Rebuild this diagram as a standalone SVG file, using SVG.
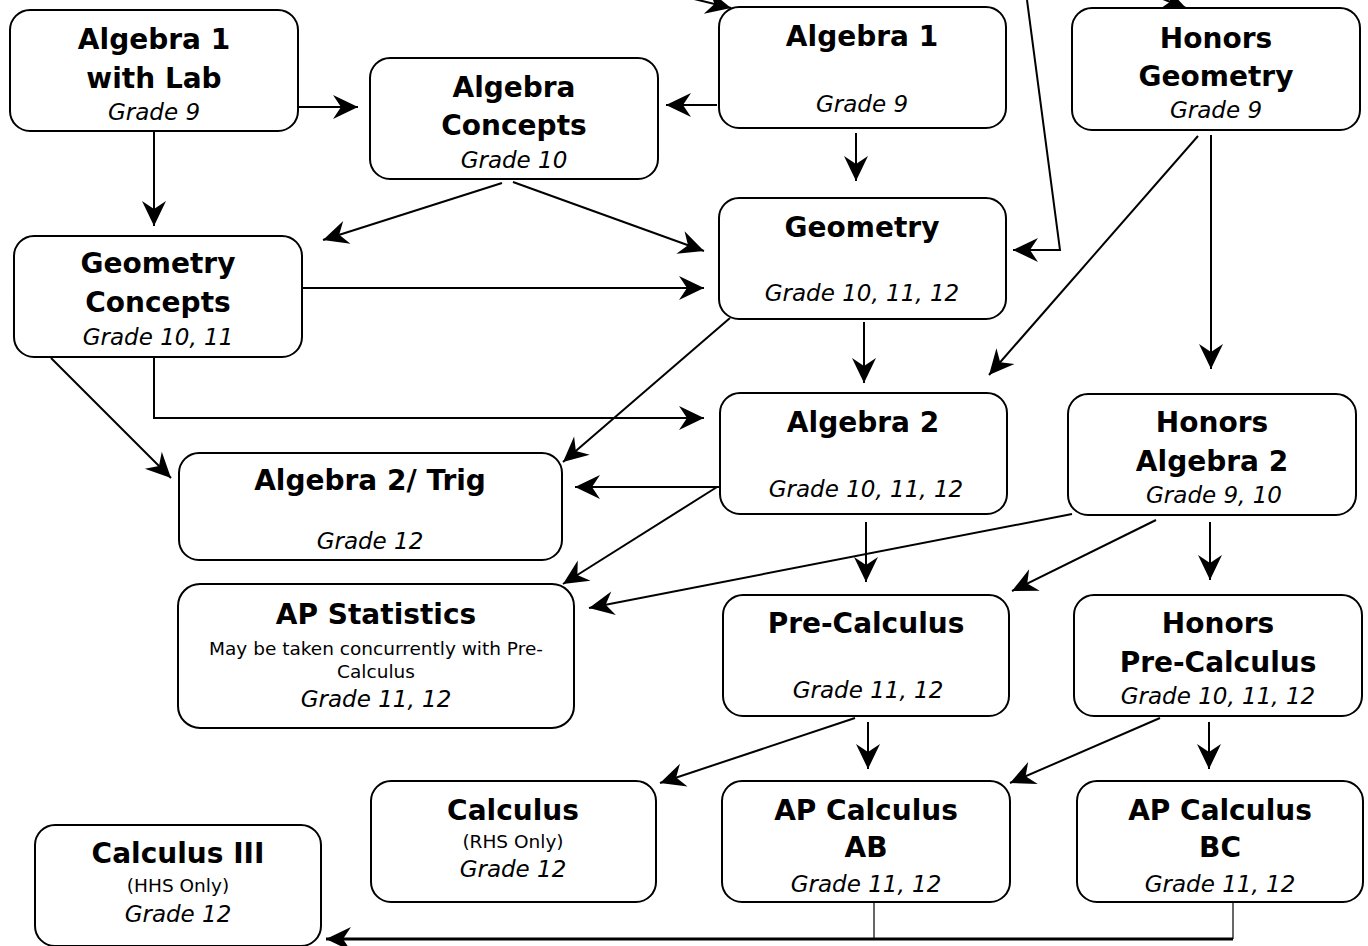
<svg xmlns="http://www.w3.org/2000/svg" width="1368" height="946" viewBox="0 0 1368 946">
<style>
.box{fill:#fff;stroke:#000;stroke-width:2}
.b{font-family:"DejaVu Sans","Liberation Sans",sans-serif;font-weight:bold;font-size:28px;text-anchor:middle;fill:#000}
.i{font-family:"DejaVu Sans","Liberation Sans",sans-serif;font-style:italic;font-size:23px;text-anchor:middle;fill:#000}
.s{font-family:"DejaVu Sans","Liberation Sans",sans-serif;font-size:18.5px;text-anchor:middle;fill:#000}
.c{fill:none;stroke:#000;stroke-width:2}
.a{marker-end:url(#ah)}
.thin{fill:none;stroke:#000;stroke-width:1.2}
.thick{fill:none;stroke:#000;stroke-width:3}
</style>
<defs>
<marker id="ah" markerUnits="userSpaceOnUse" markerWidth="30" markerHeight="30" refX="0" refY="0" orient="auto" overflow="visible" viewBox="-30 -15 30 30">
<path d="M0,0 L-25,-12 L-17,0 L-25,12 Z" fill="#000"/>
</marker>
</defs>
<rect width="1368" height="946" fill="#fff"/>
<g id="connectors">
<path class="c a" d="M298,107 L358,107"/>
<path class="c a" d="M717,105 L666,105"/>
<path class="c a" d="M154,131 L154,226"/>
<path class="c a" d="M502,183 L323,240"/>
<path class="c a" d="M513,182 L704,251"/>
<path class="c a" d="M856,133 L856,181"/>
<path class="c a" d="M1027,0 L1060,250 L1013,250"/>
<path class="c a" d="M690,-2 L731,8"/>
<path class="c a" d="M1150,-6 L1186,8"/>
<path class="c a" d="M302,288 L704,288"/>
<path class="c a" d="M154,357 L154,418 L704,418"/>
<path class="c a" d="M51,358 L171,478"/>
<path class="c a" d="M864,322 L864,383"/>
<path class="c a" d="M1198,136 L989,375"/>
<path class="c a" d="M1211,135 L1211,369"/>
<path class="c a" d="M730,318 L563,462"/>
<path class="c a" d="M720,487 L575,487"/>
<path class="c a" d="M717,487 L563,584"/>
<path class="c a" d="M1072,514 L589,608"/>
<path class="c a" d="M866,522 L866,582"/>
<path class="c a" d="M1156,520 L1012,591"/>
<path class="c a" d="M1210,522 L1210,580"/>
<path class="c a" d="M855,718 L660,783"/>
<path class="c a" d="M868,722 L868,769"/>
<path class="c a" d="M1160,718 L1010,783"/>
<path class="c a" d="M1209,722 L1209,769"/>
<path class="thin" d="M874,902 L874,939"/>
<path class="thin" d="M1233,902 L1233,939"/>
<path class="thick a" d="M1233,939 L326,939"/>
</g>
<g id="algebra1-lab"><rect class="box" x="10" y="10" width="288" height="121" rx="20"/><text class="b" x="154" y="49">Algebra 1</text><text class="b" x="154" y="88">with Lab</text><text class="i" x="154" y="120">Grade 9</text></g>
<g id="algebra-concepts"><rect class="box" x="370" y="58" width="288" height="121" rx="20"/><text class="b" x="514" y="97">Algebra</text><text class="b" x="514" y="135">Concepts</text><text class="i" x="514" y="168">Grade 10</text></g>
<g id="algebra1"><rect class="box" x="719" y="7" width="287" height="121" rx="20"/><text class="b" x="862" y="46">Algebra 1</text><text class="i" x="862" y="112">Grade 9</text></g>
<g id="honors-geometry"><rect class="box" x="1072" y="8" width="288" height="122" rx="20"/><text class="b" x="1216" y="48">Honors</text><text class="b" x="1216" y="86">Geometry</text><text class="i" x="1216" y="118">Grade 9</text></g>
<g id="geometry"><rect class="box" x="719" y="198" width="287" height="121" rx="20"/><text class="b" x="862" y="237">Geometry</text><text class="i" x="862" y="301">Grade 10, 11, 12</text></g>
<g id="geometry-concepts"><rect class="box" x="14" y="236" width="288" height="121" rx="20"/><text class="b" x="158" y="273">Geometry</text><text class="b" x="158" y="312">Concepts</text><text class="i" x="158" y="345">Grade 10, 11</text></g>
<g id="algebra2"><rect class="box" x="720" y="393" width="287" height="121" rx="20"/><text class="b" x="863" y="432">Algebra 2</text><text class="i" x="866" y="497">Grade 10, 11, 12</text></g>
<g id="honors-algebra2"><rect class="box" x="1068" y="394" width="288" height="121" rx="20"/><text class="b" x="1212" y="432">Honors</text><text class="b" x="1212" y="471">Algebra 2</text><text class="i" x="1214" y="503">Grade 9, 10</text></g>
<g id="algebra2-trig"><rect class="box" x="179" y="453" width="383" height="107" rx="20"/><text class="b" x="370" y="490">Algebra 2/ Trig</text><text class="i" x="370" y="549">Grade 12</text></g>
<g id="ap-statistics"><rect class="box" x="178" y="584" width="396" height="144" rx="22"/><text class="b" x="376" y="624">AP Statistics</text><text class="s" x="376" y="655">May be taken concurrently with Pre-</text><text class="s" x="376" y="678">Calculus</text><text class="i" x="376" y="707">Grade 11, 12</text></g>
<g id="pre-calculus"><rect class="box" x="723" y="595" width="286" height="121" rx="20"/><text class="b" x="866" y="633">Pre-Calculus</text><text class="i" x="868" y="698">Grade 11, 12</text></g>
<g id="honors-pre-calculus"><rect class="box" x="1074" y="595" width="288" height="121" rx="20"/><text class="b" x="1218" y="633">Honors</text><text class="b" x="1218" y="672">Pre-Calculus</text><text class="i" x="1218" y="704">Grade 10, 11, 12</text></g>
<g id="calculus"><rect class="box" x="371" y="781" width="285" height="121" rx="20"/><text class="b" x="513" y="820">Calculus</text><text class="s" x="513" y="848">(RHS Only)</text><text class="i" x="513" y="877">Grade 12</text></g>
<g id="ap-calculus-ab"><rect class="box" x="722" y="781" width="288" height="121" rx="20"/><text class="b" x="866" y="820">AP Calculus</text><text class="b" x="866" y="857">AB</text><text class="i" x="866" y="892">Grade 11, 12</text></g>
<g id="ap-calculus-bc"><rect class="box" x="1077" y="781" width="286" height="121" rx="20"/><text class="b" x="1220" y="820">AP Calculus</text><text class="b" x="1220" y="857">BC</text><text class="i" x="1220" y="892">Grade 11, 12</text></g>
<g id="calculus-iii"><rect class="box" x="35" y="825" width="286" height="121" rx="20"/><text class="b" x="178" y="863">Calculus III</text><text class="s" x="178" y="892">(HHS Only)</text><text class="i" x="178" y="922">Grade 12</text></g>
</svg>
